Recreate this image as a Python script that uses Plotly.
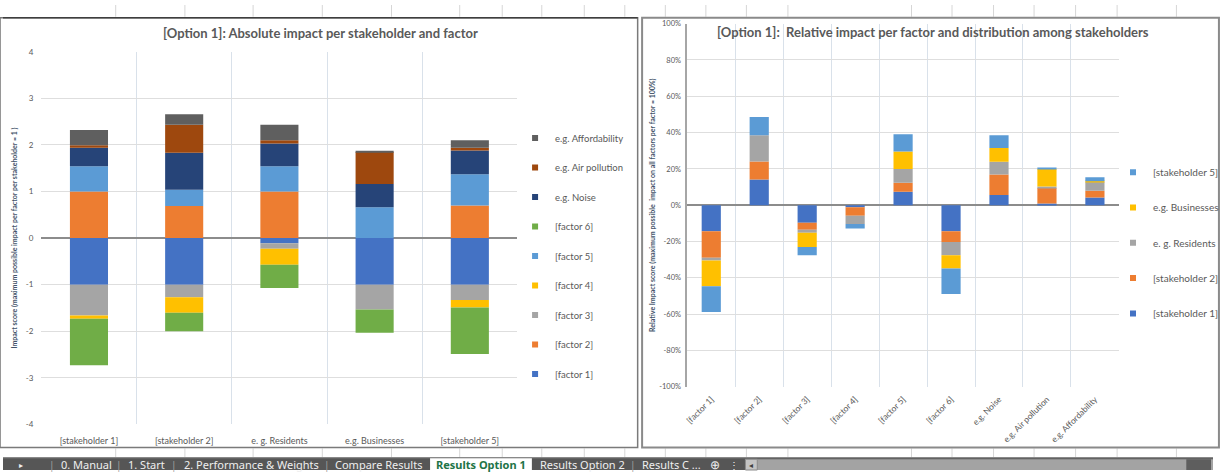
import plotly.graph_objects as go

W, H = 1224, 475

# ---------------- data ----------------
stakeholders = ["[stakeholder 1]", "[stakeholder 2]", "e. g. Residents", "e.g. Businesses", "[stakeholder 5]"]
factor_names = ["[factor 1]", "[factor 2]", "[factor 3]", "[factor 4]", "[factor 5]", "[factor 6]",
                "e.g. Noise", "e.g. Air pollution", "e.g. Affordability"]

# absolute impact per stakeholder, one list per factor (stakeholder order as above)
factor_1 = [-1.00, -1.00, -0.11, -1.00, -1.00]
factor_2 = [1.00, 0.69, 1.00, 0.00, 0.70]
factor_3 = [-0.66, -0.27, -0.12, -0.53, -0.33]
factor_4 = [-0.07, -0.33, -0.34, 0.00, -0.16]
factor_5 = [0.54, 0.35, 0.54, 0.66, 0.67]
factor_6 = [-1.00, -0.40, -0.50, -0.50, -1.00]
noise = [0.40, 0.79, 0.49, 0.50, 0.51]
air_pollution = [0.05, 0.60, 0.07, 0.69, 0.06]
affordability = [0.33, 0.23, 0.33, 0.02, 0.16]

# relative impact (%) per factor, one list per stakeholder (factor order as above)
rel_stakeholder_1 = [-14.4, 14.1, -9.7, -1.1, 7.4, -14.4, 5.6, 1.0, 4.3]
rel_stakeholder_2 = [-14.6, 9.9, -3.8, -4.7, 4.9, -5.8, 11.3, 8.5, 3.7]
rel_residents = [-1.5, 14.5, -1.7, -4.6, 7.7, -7.3, 7.0, 0.8, 4.8]
rel_businesses = [-14.1, 0.0, -7.8, 0.0, 9.5, -7.4, 7.6, 9.7, 0.4]
rel_stakeholder_5 = [-14.2, 10.0, -4.6, -2.5, 9.5, -14.0, 7.0, 0.7, 2.2]

abs_ticks = [-4, -3, -2, -1, 0, 1, 2, 3, 4]
abs_tick_text = ["-4", "-3", "-2", "-1", "0", "1", "2", "3", "4"]
rel_ticks = [-100, -80, -60, -40, -20, 0, 20, 40, 60, 80, 100]
rel_tick_text = ["-100%", "-80%", "-60%", "-40%", "-20%", "0%", "20%", "40%", "60%", "80%", "100%"]

sheet_tabs = ["0. Manual", "1. Start", "2. Performance & Weights", "Compare Results",
              "Results Option 1", "Results Option 2", "Results C ..."]

# ---------------- styling ----------------
BLUE, ORANGE, GRAY, GOLD = "#4472C4", "#ED7D31", "#A5A5A5", "#FFC000"
LBLUE, GREEN, DBLUE, BROWN, DGRAY = "#5B9BD5", "#70AD47", "#264478", "#9E480E", "#5F5F5F"
TXT = "#595959"
FONT = "Lato, 'Open Sans', sans-serif"


def px(x):
    return x / W


def py(y):
    return 1 - y / H


fig = go.Figure()

abs_series = [
    ("[factor 1]", factor_1, BLUE), ("[factor 2]", factor_2, ORANGE), ("[factor 3]", factor_3, GRAY),
    ("[factor 4]", factor_4, GOLD), ("[factor 5]", factor_5, LBLUE), ("[factor 6]", factor_6, GREEN),
    ("e.g. Noise", noise, DBLUE), ("e.g. Air pollution", air_pollution, BROWN),
    ("e.g. Affordability", affordability, DGRAY),
]
rel_series = [
    ("[stakeholder 1]", rel_stakeholder_1, BLUE), ("[stakeholder 2]", rel_stakeholder_2, ORANGE),
    ("e. g. Residents", rel_residents, GRAY), ("e.g. Businesses", rel_businesses, GOLD),
    ("[stakeholder 5]", rel_stakeholder_5, LBLUE),
]

# stacked bars
for name, vals, col in abs_series:
    fig.add_trace(go.Bar(x=stakeholders, y=vals, name=name, marker=dict(color=col, line=dict(width=0)),
                         xaxis="x", yaxis="y", showlegend=False))
for name, vals, col in rel_series:
    fig.add_trace(go.Bar(x=factor_names, y=vals, name=name, marker=dict(color=col, line=dict(width=0)),
                         xaxis="x2", yaxis="y2", showlegend=False))

# legend entries with small square keys, last series listed first
for name, vals, col in reversed(abs_series):
    fig.add_trace(go.Scatter(x=[None], y=[None], mode="markers", name=name, legendgroup="a_" + name,
                             marker=dict(symbol="square", size=6, color=col),
                             xaxis="x", yaxis="y", legend="legend"))
for name, vals, col in reversed(rel_series):
    fig.add_trace(go.Scatter(x=[None], y=[None], mode="markers", name=name, legendgroup="r_" + name,
                             marker=dict(symbol="square", size=6, color=col),
                             xaxis="x2", yaxis="y2", legend="legend2"))

VGRID = "#d9e1ea"
HGRID = "#dedede"

fig.update_layout(
    width=W, height=H, margin=dict(l=0, r=0, t=0, b=0),
    paper_bgcolor="white", plot_bgcolor="rgba(0,0,0,0)",
    barmode="relative", bargap=0.6,
    font=dict(family=FONT, color=TXT),
    xaxis=dict(domain=[px(38.8), px(520.4)], anchor="y", type="category", tickson="boundaries",
               showgrid=True, gridcolor=VGRID, gridwidth=1, ticks="", showline=False, zeroline=False,
               tickfont=dict(size=9, color=TXT), ticklabelstandoff=10),
    yaxis=dict(domain=[py(428.5), py(47.7)], anchor="x", range=[-4, 4], tickvals=abs_ticks,
               ticktext=abs_tick_text, showgrid=True, gridcolor=HGRID, gridwidth=1,
               zeroline=True, zerolinecolor="#8c8c8c", zerolinewidth=1.5, showline=False, ticks="",
               tickfont=dict(size=8, color=TXT), ticklabelstandoff=7,
               title=dict(text="Impact score (maximum possible impact per factor per stakeholder = 1 )",
                          font=dict(size=7, color="#44546A", weight="bold"), standoff=7)),
    xaxis2=dict(domain=[px(692.2), px(1128.8)], anchor="y2", type="category", tickson="boundaries",
                showgrid=True, gridcolor=VGRID, gridwidth=1, ticks="", showline=False, zeroline=False,
                tickangle=-45, tickfont=dict(size=8.5, color=TXT), ticklabelstandoff=5),
    yaxis2=dict(domain=[py(390), py(19)], anchor="x2", range=[-100, 100], tickvals=rel_ticks,
                ticktext=rel_tick_text, showgrid=True, gridcolor=HGRID, gridwidth=1,
                zeroline=True, zerolinecolor="#8c8c8c", zerolinewidth=1.5,
                showline=True, linecolor="#a6a6a6", linewidth=1.5, ticks="",
                tickfont=dict(size=7.5, color=TXT), ticklabelstandoff=3,
                title=dict(text="Relative Impact score (maximum possible\u00a0 impact on all factors per factor = 100%)",
                           font=dict(size=7, color="#44546A", weight="bold"), standoff=3)),
    legend=dict(x=px(518), y=py(121), xanchor="left", yanchor="top", traceorder="grouped",
                tracegroupgap=10.5, font=dict(size=9.5, color=TXT), bgcolor="rgba(0,0,0,0)",
                itemsizing="trace"),
    legend2=dict(x=px(1123), y=py(156), xanchor="left", yanchor="top", traceorder="grouped",
                 tracegroupgap=16.3, font=dict(size=10, color=TXT), bgcolor="rgba(0,0,0,0)",
                 itemsizing="trace"),
)

shapes = []
# spreadsheet cells visible around the two chart objects
col_lines = [114, 184, 253, 323, 393, 462, 505, 545, 588, 629, 670, 711, 752, 794,
             919, 960, 1002, 1043, 1085, 1127, 1187]
for cx in col_lines:
    for (ya, yb) in [(0, 12), (453, 462)]:
        shapes.append(dict(type="line", xref="paper", yref="paper", x0=px(cx), x1=px(cx),
                           y0=py(ya), y1=py(yb), line=dict(color="#d6d6d6", width=1), layer="below"))
# chart object frames
shapes.append(dict(type="rect", xref="paper", yref="paper", x0=px(-3), x1=px(642), y0=py(452), y1=py(13),
                   line=dict(color="#7a7a7a", width=1.5), fillcolor="white", layer="below"))
shapes.append(dict(type="line", xref="paper", yref="paper", x0=px(0), x1=px(642), y0=py(13), y1=py(13),
                   line=dict(color="#3f3f3f", width=1.5), layer="below"))
shapes.append(dict(type="rect", xref="paper", yref="paper", x0=px(646.5), x1=px(1230), y0=py(452), y1=py(13),
                   line=dict(color="#8a8a8a", width=2), fillcolor="white", layer="below"))
# sheet tab bar
shapes.append(dict(type="rect", xref="paper", yref="paper", x0=0, x1=1, y0=0, y1=py(462),
                   line=dict(width=0), fillcolor="#565656", layer="above"))
shapes.append(dict(type="line", xref="paper", yref="paper", x0=0, x1=1, y0=py(462.5), y1=py(462.5),
                   line=dict(color="#8c8c8c", width=1), layer="above"))
shapes.append(dict(type="rect", xref="paper", yref="paper", x0=px(432), x1=px(535), y0=0, y1=py(463),
                   line=dict(width=0), fillcolor="white", layer="above"))
shapes.append(dict(type="rect", xref="paper", yref="paper", x0=px(751), x1=px(1224), y0=0, y1=py(464),
                   line=dict(width=0), fillcolor="#a3a3a3", layer="above"))
shapes.append(dict(type="rect", xref="paper", yref="paper", x0=px(751), x1=px(763), y0=0, y1=py(464),
                   line=dict(color="#8a8a8a", width=1), fillcolor="#c4c4c4", layer="above"))
shapes.append(dict(type="rect", xref="paper", yref="paper", x0=px(1197), x1=px(1222), y0=0, y1=py(464),
                   line=dict(width=0), fillcolor="#5e5e5e", layer="above"))
fig.update_layout(shapes=shapes)

ann = []
ann.append(dict(text="<b>[Option 1]: Absolute impact per stakeholder and factor</b>", x=px(321), y=py(29),
                xref="paper", yref="paper", showarrow=False, xanchor="center", yanchor="middle",
                font=dict(size=13, color=TXT, family=FONT)))
ann.append(dict(text="<b>[Option 1]:\u00a0 Relative impact per factor and distribution among stakeholders</b>",
                x=px(941), y=py(28), xref="paper", yref="paper", showarrow=False, xanchor="center",
                yanchor="middle", font=dict(size=13, color=TXT, family=FONT)))

TAB_FONT = "'Noto Sans', 'Open Sans', sans-serif"
tab_centers = [84, 145, 251, 380, 483.5, 586, 676]
for label, cx in zip(sheet_tabs, tab_centers):
    active = label == "Results Option 1"
    ann.append(dict(text=("<b>%s</b>" % label) if active else label, x=px(cx), y=py(469.5),
                    xref="paper", yref="paper", showarrow=False, xanchor="center", yanchor="middle",
                    font=dict(size=11, color="#217346" if active else "#efefef", family=TAB_FONT)))
for sx in [50, 117, 173, 328, 637]:
    ann.append(dict(text="|", x=px(sx), y=py(469.5), xref="paper", yref="paper", showarrow=False,
                    xanchor="center", yanchor="middle", font=dict(size=10, color="#a0a0a0", family=TAB_FONT)))
for sym, sx, sz in [("\u25b8", 18, 8), ("\u2295", 720, 12), ("\u22ee", 739, 10), ("\u25c2", 757, 8)]:
    ann.append(dict(text=sym, x=px(sx), y=py(469.5), xref="paper", yref="paper", showarrow=False,
                    xanchor="center", yanchor="middle",
                    font=dict(size=sz, color="#404040" if sym == "\u25c2" else "#efefef", family=TAB_FONT)))
fig.update_layout(annotations=ann)

fig.write_html("out.html")
